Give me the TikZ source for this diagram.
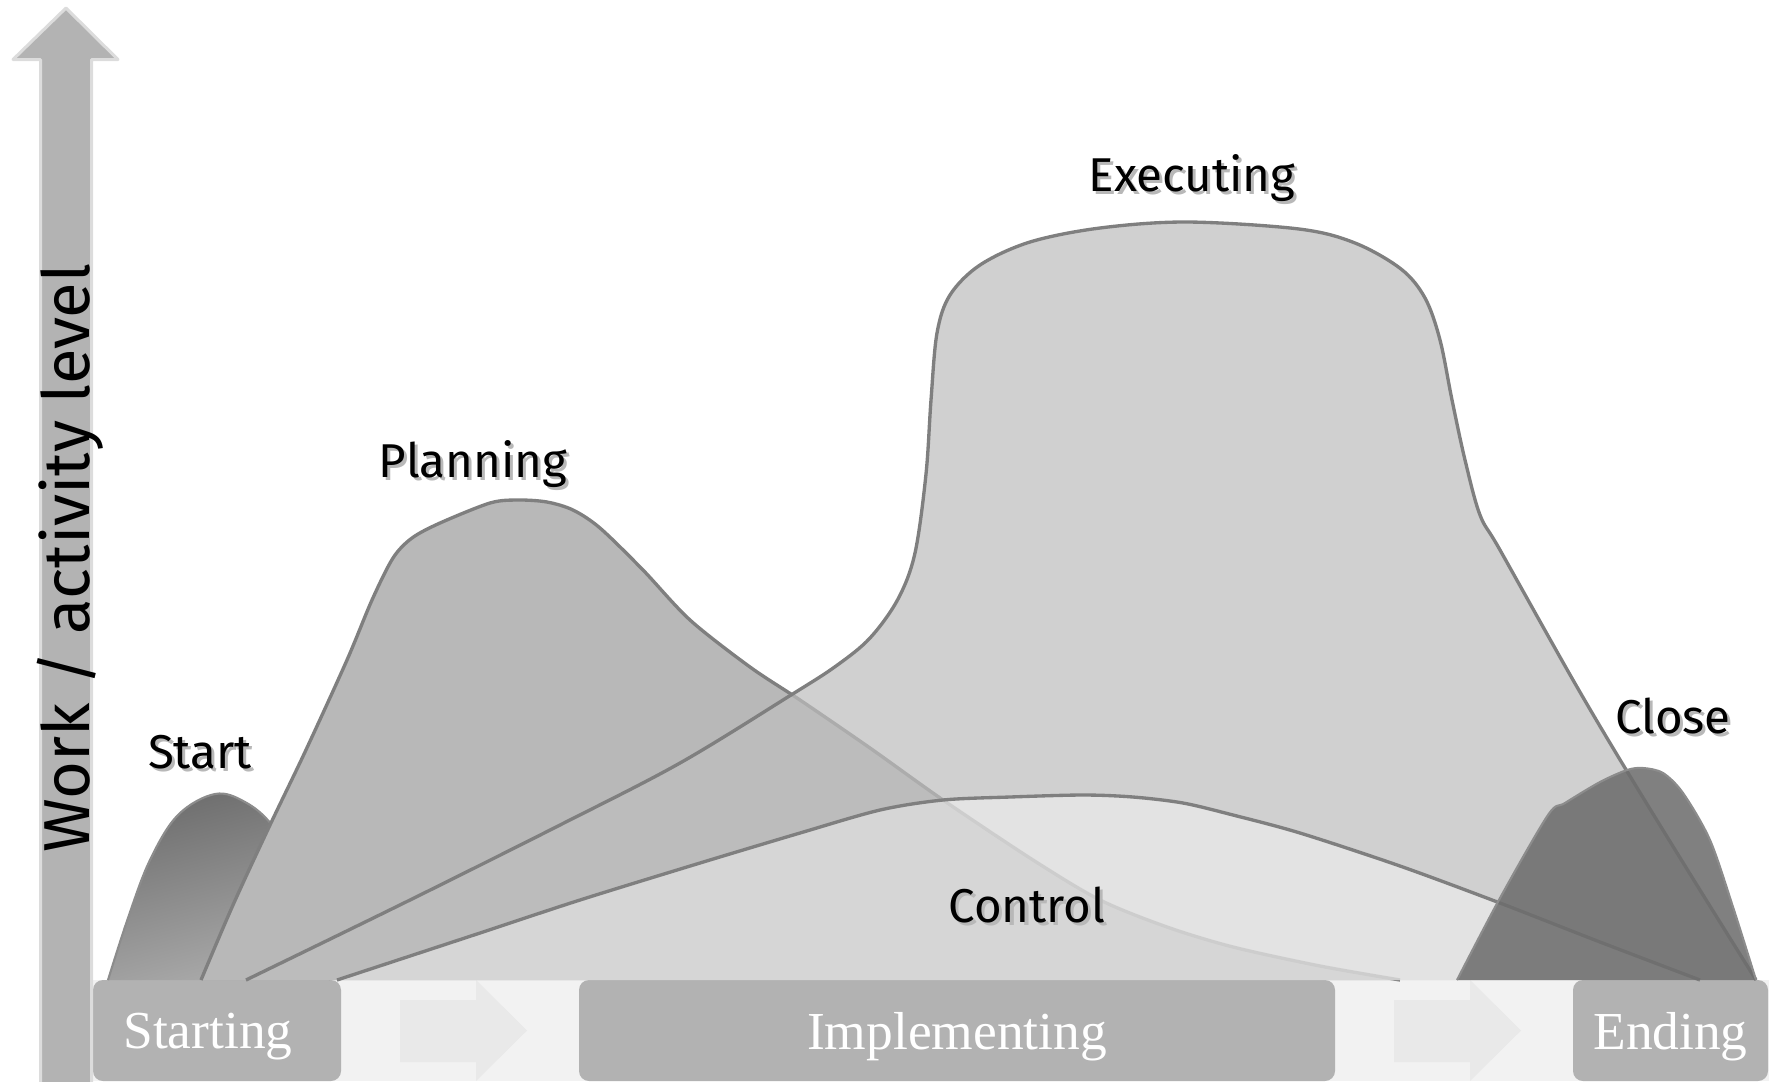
\documentclass[tikz,border=0pt]{standalone}
\usepackage{fontspec}
\setmainfont{Liberation Serif}
\newfontfamily\labelfont{Fira Sans}

\definecolor{bandgray}{HTML}{F2F2F2}
\definecolor{chevgray}{HTML}{E9E9E9}
\definecolor{boxgray}{HTML}{B2B2B2}
\definecolor{axisgray}{HTML}{B3B3B3}
\definecolor{axisedge}{HTML}{DCDCDC}
\definecolor{linegray}{HTML}{7F7F7F}
\definecolor{planfill}{HTML}{B8B8B8}
\definecolor{execfill}{HTML}{BEBEBE}
\definecolor{closefill}{HTML}{6D6D6D}

\newcommand{\shadowed}[1]{\rlap{\kern0.3mm\raisebox{-0.35mm}{\textcolor{black!28}{#1}}}#1}

\begin{document}
\begin{tikzpicture}[x=0.1mm, y=-0.1mm, line join=round]
    \tikzstyle{phase}=[rounded corners=1mm, fill=boxgray, text=white, font=\fontsize{15.2}{18}\selectfont, inner sep=0pt, minimum height=10.1mm, text depth=0pt]
    \tikzstyle{curve}=[draw=linegray, line width=0.95pt]
    \tikzstyle{bump}=[draw=black!45, line width=0.6pt]
    \tikzstyle{annot}=[font=\labelfont\fontsize{13.5}{16}\selectfont, anchor=base, inner sep=0pt]

    \useasboundingbox (0,0) rectangle (1771,1081);

    % Draw the phase band
    \fill[bandgray] (90,980) rectangle (1769,1081);
    \foreach \x in {400,1394}
        \fill[chevgray] (\x,1000) -- (\x+76,1000) -- (\x+76,980) -- (\x+127,1030.5)
            -- (\x+76,1081) -- (\x+76,1062) -- (\x,1062) -- cycle;

    \node[phase, minimum width=24.8mm] (starting) at (217,1030.5) {Starting\hspace*{1.8mm}};
    \node[phase, minimum width=75.6mm] (implementing) at (957,1030.5) {Implementing};
    \node[phase, minimum width=19.5mm] (ending) at (1670.5,1030.5) {Ending};

    % Draw the activity curves
    \draw[bump, top color=black!57, bottom color=black!33, shading angle=15]
        plot[smooth, tension=0.6] coordinates {(108,980) (128,918) (150,860) (178,815)
            (215,794) (245,802) (272,825) (300,870) (330,980)};

    \draw[curve, fill=planfill]
        plot[smooth, tension=0.5] coordinates {(201,980) (233,905) (270,825) (305,752) (347,660)
            (372,600) (393,558) (412,538) (440,523) (490,503) (518,500) (547,502) (573,510)
            (600,528) (643,570) (690,620) (750,667) (800,700) (870,748) (943,800) (1033,860)
            (1100,900) (1167,927) (1233,947) (1320,966) (1400,980)};

    \draw[curve, fill=execfill, fill opacity=0.72]
        plot[smooth, tension=0.55] coordinates {(246,980) (410,900) (560,825) (680,763)
            (791,695) (836,666) (870,638) (898,599) (915,553) (926,474) (931,400)
            (937,333) (950,295) (980,265) (1030,242) (1100,228) (1187,222) (1299,229)
            (1355,243) (1401,269) (1425,298) (1440,340) (1452,400) (1465,460) (1480,515)
            (1500,550) (1573,680) (1625,768) (1690,874) (1756,980)};

    \draw[curve, fill=white, fill opacity=0.4]
        plot[smooth, tension=0.5] coordinates {(337,980) (480,933) (580,900) (700,863) (800,833)
            (880,810) (943,800) (1010,797) (1083,795) (1133,797) (1183,803) (1233,815)
            (1300,833) (1400,866) (1500,903) (1600,942) (1700,980)};

    \draw[bump, fill=closefill, fill opacity=0.87]
        plot[smooth, tension=0.5] coordinates {(1457,980) (1500,898) (1548,815) (1565,803)
            (1600,782) (1627,770) (1643,768) (1663,773) (1683,793) (1710,840) (1733,907)
            (1756,980)};

    % Draw the axis arrow
    \draw[draw=axisedge, fill=axisgray, line width=0.3mm] (40.5,1090) -- (40.5,59.5) -- (13,59.5)
        -- (66,8) -- (118,59.5) -- (91.5,59.5) -- (91.5,1090) -- cycle;
    \node[rotate=90, anchor=base, inner sep=0pt, font=\labelfont\fontsize{18.5}{20}\selectfont]
        (axis) at (90,558) {Work / activity level};

    % Annotate the curves
    \node[annot] (start) at (200,768) {\shadowed{Start}};
    \node[annot] (planning) at (473,477) {\shadowed{Planning}};
    \node[annot] (executing) at (1192,191) {\shadowed{Executing}};
    \node[annot] (control) at (1027,922) {\shadowed{Control}};
    \node[annot] (close) at (1673,733) {\shadowed{Close}};
\end{tikzpicture}
\end{document}
